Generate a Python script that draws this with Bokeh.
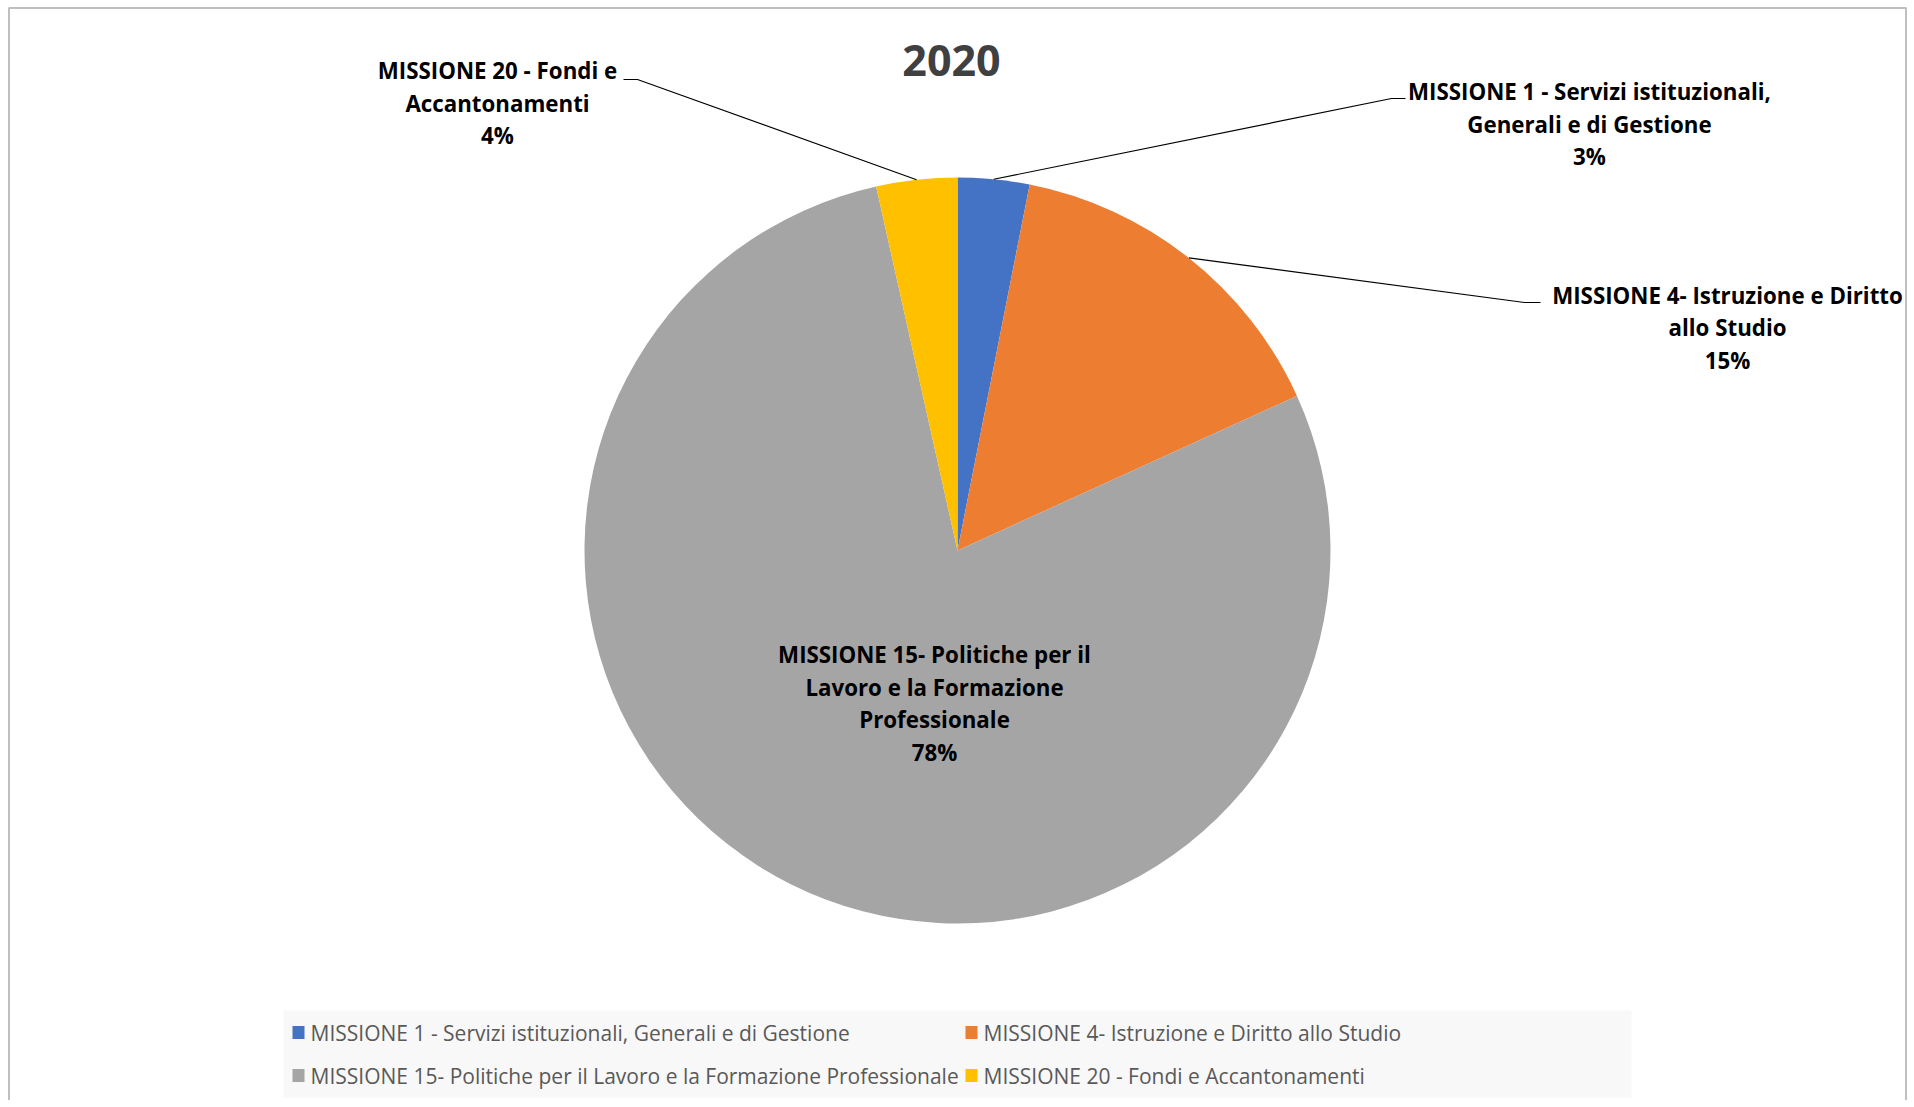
import math
from bokeh.plotting import figure
from bokeh.models import Range1d, ColumnDataSource
from bokeh.core.properties import value
from bokeh.embed import file_html
from bokeh.resources import INLINE

# ---------------- data ----------------
title_text = "2020"
categories = [
    "MISSIONE 1 - Servizi istituzionali, Generali e di Gestione",
    "MISSIONE 4- Istruzione e Diritto allo Studio",
    "MISSIONE 15- Politiche per il Lavoro e la Formazione Professionale",
    "MISSIONE 20 - Fondi e Accantonamenti",
]
values = [3.1, 15.1, 78.3, 3.5]
colors = ["#4472C4", "#ED7D31", "#A5A5A5", "#FFC000"]
label_lines = [
    ["MISSIONE 1 - Servizi istituzionali,", "Generali e di Gestione"],
    ["MISSIONE 4- Istruzione e Diritto", "allo Studio"],
    ["MISSIONE 15- Politiche per il", "Lavoro e la Formazione", "Professionale"],
    ["MISSIONE 20 - Fondi e", "Accantonamenti"],
]

# ---------------- layout (page pixel coordinates) ----------------
W, H = 1914, 1100
def Y(py):
    return H - py  # page y (down) -> data y (up)

CX, CY, R = 957, 550, 373
FONT = "Open Sans"
label_pos = [(1589, 91), (1727, 294.5), (934, 654), (497, 70)]
label_step = 32.6
leader_knee = [((1391, 98), (1405, 98)), ((1524, 302), (1540, 302)), None, ((637, 79), (623, 79))]

p = figure(width=W, height=H, output_backend="svg", toolbar_location=None,
           x_range=Range1d(0, W), y_range=Range1d(0, H),
           x_axis_location=None, y_axis_location=None, min_border=0,
           background_fill_color="white", border_fill_color="white")
p.grid.visible = False
p.outline_line_color = None

# chart-area border (left, top, right)
p.line(x=[8.5, 8.5, 1905.5, 1905.5], y=[Y(1100), Y(7.5), Y(7.5), Y(1100)],
       line_color="#bfbfbf", line_width=2)

# ---------------- pie ----------------
total = sum(values)
starts, ends, mids = [], [], []
cum = 0.0
for v in values:
    a0 = math.pi / 2 - 2 * math.pi * cum / total
    cum += v
    a1 = math.pi / 2 - 2 * math.pi * cum / total
    starts.append(a0)
    ends.append(a1)
    mids.append((a0 + a1) / 2)

src = ColumnDataSource(dict(x=[CX] * 4, y=[Y(CY)] * 4, start=starts, end=ends, color=colors))
p.wedge(x="x", y="y", radius=R, start_angle="start", end_angle="end", direction="clock",
        fill_color="color", line_color=None, source=src)

# ---------------- data labels ----------------
for i, v in enumerate(values):
    lines = label_lines[i] + [f"{int(v + 0.5)}%"]
    lx, ly = label_pos[i]
    for k, t in enumerate(lines):
        p.text(x=[lx], y=[Y(ly + k * label_step)], text=[t], text_font=value(FONT),
               text_font_style="bold", text_font_size="22.3px", text_color="#000000",
               text_align="center", text_baseline="middle")
    if leader_knee[i] is not None:
        ex = CX + R * math.cos(mids[i])
        ey = CY - R * math.sin(mids[i])
        (kx, ky), (tx, ty) = leader_knee[i]
        p.line(x=[ex, kx, tx], y=[Y(ey), Y(ky), Y(ty)], line_color="#000000", line_width=1.2)

# ---------------- title ----------------
p.text(x=[951], y=[Y(60)], text=[title_text], text_font=value(FONT), text_font_style="bold",
       text_font_size="43px", text_color="#404040", text_align="center", text_baseline="middle")

# ---------------- legend ----------------
p.quad(left=[283], right=[1631], top=[Y(1010)], bottom=[Y(1097)], fill_color="#f8f8f8", line_color=None)
col_x = [298, 971]
row_y = [1032, 1075]
for i, c in enumerate(categories):
    cx = col_x[i % 2]
    ry = row_y[i // 2]
    p.rect(x=[cx], y=[Y(ry)], width=12, height=13, fill_color=colors[i], line_color=None)
    p.text(x=[cx + 12], y=[Y(ry)], text=[c], text_font=value(FONT), text_font_size="21px",
           text_color="#595959", text_align="left", text_baseline="middle")

open("out.html", "w").write(file_html(p, INLINE))
